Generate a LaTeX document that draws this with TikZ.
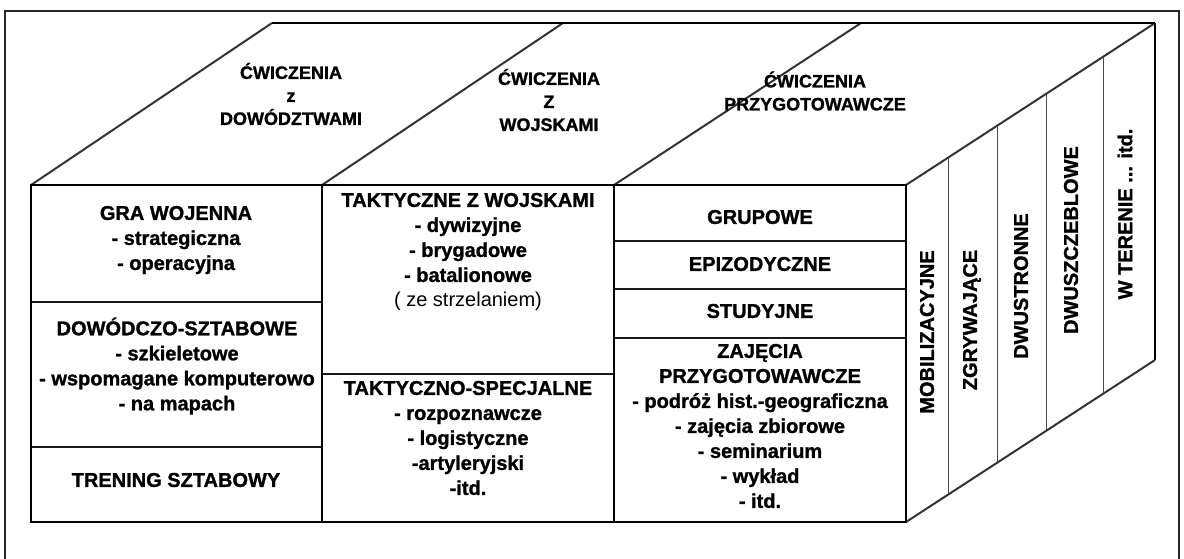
\documentclass[tikz,border=0pt]{standalone}
\usepackage{fontspec}
\setmainfont{Liberation Sans}[BoldFeatures={FakeBold=1.2}]
\begin{document}
\begin{tikzpicture}[x=0.75pt,y=-0.75pt,
  txt/.style={font=\fontsize{15}{18.75}\selectfont\bfseries, align=center, inner sep=0pt},
  toptxt/.style={font=\fontsize{13.5}{17.25}\selectfont\bfseries, align=center, inner sep=0pt},
  sidetxt/.style={font=\fontsize{15}{18}\selectfont\bfseries, rotate=90, inner sep=0pt},
  frameline/.style={line width=1.1pt, black!85},
  edgeline/.style={line width=1.9pt, black},
  colline/.style={line width=1.3pt, black},
  rowline/.style={line width=0.8pt, black!90},
  slantline/.style={line width=1.5pt, black!80},
  sideline/.style={line width=0.6pt, black!70}
]
\useasboundingbox (0,0) rectangle (1184,558);
\clip (0,0) rectangle (1184,558);
\draw[frameline] (5,11) rectangle (1179,620);

% corners
\coordinate (f1) at (31,185);
\coordinate (f2) at (322,185);
\coordinate (f3) at (614,185);
\coordinate (f4) at (906,185);
\coordinate (g1) at (31,522);
\coordinate (g2) at (322,522);
\coordinate (g3) at (614,522);
\coordinate (g4) at (906,522);
\coordinate (b1) at (272,23);
\coordinate (b2) at (563,23);
\coordinate (b3) at (861,23);
\coordinate (b4) at (1155,23);
\coordinate (b5) at (1155,360);

% top face
\draw[slantline] (f1) -- (b1);
\draw[slantline] (f2) -- (b2);
\draw[slantline] (f3) -- (b3);
\draw[slantline] (f4) -- (b4);
\draw[edgeline] (b1) -- (b4);

% side face
\draw[sideline] (948,157.7) -- (948,494.7);
\draw[sideline] (997,125.8) -- (997,462.8);
\draw[sideline] (1046,93.9) -- (1046,430.9);
\draw[sideline] (1103,56.8) -- (1103,393.8);
\draw[colline] (b4) -- (b5);
\draw[slantline] (g4) -- (b5);

% front face
\draw[rowline] (31,302) -- (322,302);
\draw[rowline] (31,447) -- (322,447);
\draw[rowline] (322,374) -- (614,374);
\draw[rowline] (614,241) -- (906,241);
\draw[rowline] (614,289) -- (906,289);
\draw[rowline] (614,338) -- (906,338);
\draw[colline] (f2) -- (g2);
\draw[colline] (f3) -- (g3);
\draw[edgeline] (f1) -- (f4) -- (g4) -- (g1) -- cycle;

% top labels
\node[toptxt] (t1) at (291,94) {ĆWICZENIA\\z\\DOWÓDZTWAMI};
\node[toptxt] (t2) at (549,100) {ĆWICZENIA\\Z\\WOJSKAMI};
\node[toptxt] (t3) at (815,91) {ĆWICZENIA\\PRZYGOTOWAWCZE};

% column 1
\node[txt] (c1a) at (176,240) {GRA WOJENNA\\- strategiczna\\- operacyjna};
\node[txt] (c1b) at (177,366) {DOWÓDCZO-SZTABOWE\\- szkieletowe\\- wspomagane komputerowo\\- na mapach};
\node[txt] (c1c) at (176,480) {TRENING SZTABOWY};

% column 2
\node[txt] (c2a) at (468,252) {TAKTYCZNE Z WOJSKAMI\\- dywizyjne\\- brygadowe\\- batalionowe\\{\mdseries ( ze strzelaniem)}};
\node[txt] (c2b) at (468,438) {TAKTYCZNO-SPECJALNE\\- rozpoznawcze\\- logistyczne\\-artyleryjski\\-itd.};

% column 3
\node[txt] (c3a) at (760,217) {GRUPOWE};
\node[txt] (c3b) at (760,264) {EPIZODYCZNE};
\node[txt] (c3c) at (760,311) {STUDYJNE};
\node[txt] (c3d) at (760,426) {ZAJĘCIA\\PRZYGOTOWAWCZE\\- podróż hist.-geograficzna\\- zajęcia zbiorowe\\- seminarium\\- wykład\\- itd.};

% side labels
\node[sidetxt] (s1) at (927,332) {MOBILIZACYJNE};
\node[sidetxt] (s2) at (972,320) {ZGRYWAJĄCE};
\node[sidetxt] (s3) at (1021,286) {DWUSTRONNE};
\node[sidetxt] (s4) at (1071,240) {DWUSZCZEBLOWE};
\node[sidetxt] (s5) at (1125,214) {W TERENIE ... itd.};
\end{tikzpicture}
\end{document}
